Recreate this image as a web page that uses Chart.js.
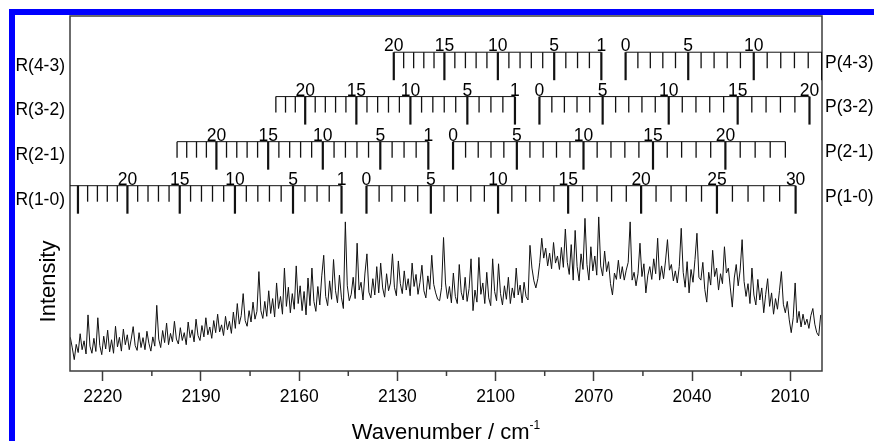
<!DOCTYPE html>
<html>
<head>
<meta charset="utf-8">
<script src="https://cdn.jsdelivr.net/npm/chart.js@4.4.1/dist/chart.umd.min.js"></script>
<style>
  html, body { margin: 0; padding: 0; background: #fff; }
  #wrap { position: relative; width: 874px; height: 441px; overflow: hidden; }
  #chart { position: absolute; left: 0; top: 0; }
  #edge { position: absolute; left: 9px; top: 9px; width: 900px; height: 460px;
          border-left: 6px solid #0000ff; border-top: 6px solid #0000ff; pointer-events: none; }
</style>
</head>
<body>
<div id="wrap">
  <canvas id="chart" width="874" height="441"></canvas>
  <div id="edge"></div>
</div>
<script>
// x axis ticks (cm-1)
const majorTicks = [2220, 2190, 2160, 2130, 2100, 2070, 2040, 2010];
const minorTicks = [2205, 2175, 2145, 2115, 2085, 2055, 2025];

// spectrum, one sample every 0.6 cm-1 from 2229.9 cm-1 downwards
const wnFirst = 2229.9;
const wnStep = 0.6;
const specA = [
  9.5, 6.5, 3.2, 7.5, 5.2, 10.5, 6.0, 8.5, 4.8, 15.8,
  7.0, 5.0, 9.2, 5.5, 15.0, 7.2, 4.6, 9.8, 6.2, 11.5,
  5.4, 8.8, 5.0, 12.6, 6.8, 9.5, 5.6, 11.8, 7.4, 10.2,
  6.0, 9.0, 12.5, 7.2, 5.8, 10.8, 6.6, 9.4, 6.0, 11.2,
  7.8, 5.6, 9.6, 7.0, 18.5, 9.0, 6.6, 11.4, 8.0, 13.5,
  7.4, 10.6, 8.2, 14.0, 9.0, 7.6, 12.2, 8.6, 10.8, 7.4,
  13.8, 9.4, 11.6, 8.2, 14.6, 10.0, 8.6, 12.8, 9.6, 15.0,
  10.2, 12.4, 9.2, 14.2, 10.8, 16.0, 11.0, 13.0, 10.0, 15.4,
  11.6, 14.0, 10.6, 16.6, 12.0, 19.0, 13.2, 15.6, 21.8, 14.2,
  12.6, 17.0, 13.8, 19.4, 14.6, 16.8
];
const specB = [
  28.0, 17.0, 14.8, 19.6, 15.4, 22.6, 16.2, 20.4, 15.2, 24.8,
  17.6, 21.0, 16.0, 29.0, 18.2, 23.6, 16.4, 21.8, 17.4, 29.6,
  19.0, 24.0, 17.0, 22.4, 15.8, 26.2, 18.4, 29.0, 19.6, 16.8,
  23.8, 18.6, 26.8, 32.6, 21.0, 18.4, 25.4, 20.2, 31.4, 22.6,
  19.2, 27.0, 20.8, 17.6, 42.0, 24.0, 19.8, 21.6, 26.4, 20.4,
  36.0, 22.8, 25.0, 20.0, 27.6, 33.0, 22.2, 20.6, 26.0, 21.4,
  29.4, 22.0, 30.4, 23.4, 20.8, 27.4, 22.6, 24.8, 33.0, 23.6,
  21.2, 31.0, 24.6, 21.8, 28.2, 22.8, 26.0, 21.2, 30.4, 23.8,
  27.2, 21.6, 25.0, 29.8, 22.6, 20.6, 26.8, 23.0, 32.6, 24.4,
  22.0, 20.2, 19.8, 23.6, 37.6, 24.8
];
const specC = [
  20.4, 23.8, 19.2, 27.6, 21.0, 19.0, 30.0, 22.2, 20.0, 26.4,
  19.6, 23.2, 31.6, 17.0, 22.8, 19.4, 32.0, 21.6, 24.8, 19.0,
  27.8, 20.6, 18.4, 31.6, 22.4, 19.8, 30.2, 21.8, 18.6, 24.0,
  20.2, 26.4, 19.0, 23.4, 20.6, 29.0, 21.4, 24.2, 19.2, 25.0,
  21.0, 20.0, 35.4, 29.0, 25.4, 23.4, 26.0, 30.6, 37.4, 31.8,
  34.6, 29.6, 33.2, 28.8, 36.2, 30.4, 32.4, 28.6, 34.8, 29.2,
  40.0, 30.6, 27.2, 35.6, 25.6, 39.6, 29.4, 25.4, 33.0, 28.6,
  43.0, 30.0, 25.6, 35.0, 28.2, 32.4, 27.0, 43.4, 29.6, 26.8,
  33.8, 28.0, 30.8, 24.6, 21.4, 27.6, 25.8, 31.2, 26.0, 29.4,
  25.6, 28.4, 30.6, 42.0, 25.6, 27.8
];
const specD = [
  24.0, 27.4, 36.0, 26.6, 30.2, 22.0, 27.0, 29.4, 25.8, 31.6,
  27.4, 37.4, 25.6, 29.6, 26.0, 31.0, 37.0, 28.4, 30.0, 25.4,
  28.2, 24.8, 29.4, 40.2, 27.8, 23.6, 30.8, 22.0, 28.6, 25.0,
  31.4, 38.8, 26.4, 25.6, 30.6, 23.0, 19.4, 27.8, 24.2, 34.0,
  26.6, 29.0, 22.8, 27.4, 24.6, 35.0, 27.6, 29.0, 23.4, 18.0,
  26.2, 30.0, 24.0, 28.4, 37.0, 25.2, 21.0, 24.6, 19.0, 29.0,
  21.4, 18.6, 25.8, 20.0, 23.4, 16.4, 21.6, 26.0, 18.2, 22.0,
  16.0, 20.4, 17.4, 22.6, 28.0, 18.8, 16.4, 19.6, 14.4, 10.8,
  15.0, 24.8, 13.6, 16.8, 12.4, 16.0, 13.0, 14.6, 12.0, 15.6,
  17.6, 13.2, 10.8, 9.9, 15.8
];

// line positions (cm-1); R combs start at label 1, P combs at label 0
const r10 = [2147.06, 2150.82, 2154.54, 2158.23, 2161.88, 2165.50, 2169.08, 2172.63, 2176.14, 2179.62,
             2183.06, 2186.47, 2189.84, 2193.17, 2196.48, 2199.74, 2202.98, 2206.17, 2209.33, 2212.46,
             2215.55, 2218.61, 2221.63, 2224.62, 2227.57, 2230.49];
const p10 = [2139.44, 2135.58, 2131.69, 2127.75, 2123.79, 2119.78, 2115.75, 2111.68, 2107.57, 2103.43,
             2099.25, 2095.04, 2090.79, 2086.51, 2082.19, 2077.84, 2073.45, 2069.03, 2064.57, 2060.08,
             2055.55, 2050.99, 2046.40, 2041.76, 2037.10, 2032.39, 2027.66, 2022.89, 2018.08, 2013.24,
             2008.36];
const r21 = [2120.55, 2124.27, 2127.96, 2131.61, 2135.22, 2138.81, 2142.35, 2145.87, 2149.34, 2152.78,
             2156.19, 2159.56, 2162.90, 2166.20, 2169.47, 2172.70, 2175.90, 2179.06, 2182.19, 2185.28,
             2188.34, 2191.36, 2194.35, 2197.30];
const p21 = [2113.00, 2109.17, 2105.31, 2101.41, 2097.48, 2093.51, 2089.51, 2085.47, 2081.40, 2077.29,
             2073.15, 2068.98, 2064.76, 2060.52, 2056.23, 2051.92, 2047.57, 2043.18, 2038.76, 2034.30,
             2029.81, 2025.28, 2020.72, 2016.12, 2011.49];
const r32 = [2094.09, 2097.78, 2101.43, 2105.05, 2108.63, 2112.18, 2115.69, 2119.17, 2122.61, 2126.02,
             2129.39, 2132.72, 2136.03, 2139.29, 2142.53, 2145.72, 2148.88, 2152.01, 2155.10, 2158.16,
             2161.18, 2164.17, 2167.12];
const p32 = [2086.61, 2082.82, 2078.99, 2075.13, 2071.24, 2067.30, 2063.34, 2059.33, 2055.30, 2051.23,
             2047.12, 2042.98, 2038.80, 2034.59, 2030.34, 2026.06, 2021.74, 2017.39, 2013.00, 2008.58,
             2004.12];
const r43 = [2067.70, 2071.35, 2074.97, 2078.55, 2082.10, 2085.61, 2089.09, 2092.53, 2095.94, 2099.31,
             2102.65, 2105.95, 2109.22, 2112.45, 2115.64, 2118.81, 2121.93, 2125.03, 2128.08, 2131.10];
const p43 = [2060.29, 2056.54, 2052.74, 2048.92, 2045.05, 2041.16, 2037.23, 2033.26, 2029.26, 2025.22,
             2021.15, 2017.04, 2012.90, 2008.72, 2004.51, 2000.26];

const bands = ['4-3', '3-2', '2-1', '1-0'];
const rowLevels = [89.8, 77.3, 64.6, 52.2];   // comb baselines on the intensity axis

const FONT = '"Liberation Sans", Arial, Helvetica, sans-serif';
const INK = '#111';

const spectrum = [...specA, ...specB, ...specC, ...specD];
const points = spectrum.map((v, i) => ({ x: wnFirst - wnStep * i, y: v }));

const combs = [
  { r: r43, p: p43 },
  { r: r32, p: p32 },
  { r: r21, p: p21 },
  { r: r10, p: p10 }
];

function drawComb(ctx, area, xs, lineY, lines, firstLabel) {
  const px = lines.map(v => xs.getPixelForValue(v));
  ctx.save();
  ctx.beginPath();
  ctx.rect(area.left, area.top, area.right - area.left, area.bottom - area.top);
  ctx.clip();

  ctx.strokeStyle = INK;
  ctx.lineWidth = 1;
  ctx.beginPath();
  ctx.moveTo(Math.min(...px), lineY);
  ctx.lineTo(Math.max(...px), lineY);
  ctx.stroke();

  ctx.font = '17.5px ' + FONT;
  ctx.fillStyle = '#000';
  ctx.textAlign = 'center';
  ctx.textBaseline = 'alphabetic';

  px.forEach((p, k) => {
    const n = firstLabel + k;
    const major = n === firstLabel || n % 5 === 0;
    ctx.lineWidth = major ? 2.2 : 1.3;
    ctx.beginPath();
    ctx.moveTo(p, lineY);
    ctx.lineTo(p, lineY + (major ? 28 : 16));
    ctx.stroke();
    if (major) {
      const txt = String(n);
      const w = ctx.measureText(txt).width;
      if (p - w / 2 >= area.left && p + w / 2 <= area.right) {
        ctx.fillText(txt, p, lineY - 1);
      }
    }
  });
  ctx.restore();
}

const decor = {
  id: 'decor',
  afterDraw(chart) {
    const { ctx, chartArea: a, scales: { x, y } } = chart;
    ctx.save();

    // plot frame
    ctx.strokeStyle = '#3c3c3c';
    ctx.lineWidth = 1.5;
    ctx.strokeRect(a.left, a.top, a.right - a.left, a.bottom - a.top);

    // minor ticks on the wavenumber axis
    ctx.beginPath();
    minorTicks.forEach(v => {
      const px = x.getPixelForValue(v);
      ctx.moveTo(px, a.bottom);
      ctx.lineTo(px, a.bottom + 5);
    });
    ctx.stroke();

    // R and P combs for each band
    combs.forEach((c, i) => {
      const lineY = y.getPixelForValue(rowLevels[i]);
      drawComb(ctx, a, x, lineY, c.r, 1);
      drawComb(ctx, a, x, lineY, c.p, 0);

      ctx.font = '17.5px ' + FONT;
      ctx.fillStyle = '#000';
      ctx.textBaseline = 'middle';
      ctx.textAlign = 'right';
      ctx.fillText('R(' + bands[i] + ')', a.left - 5, lineY + 14);
      ctx.textAlign = 'left';
      ctx.fillText('P(' + bands[i] + ')', a.right + 3, lineY + 11);
    });

    // axis titles
    ctx.fillStyle = '#000';
    ctx.textBaseline = 'alphabetic';
    const main = 'Wavenumber / cm';
    const sup = '-1';
    ctx.font = '22px ' + FONT;
    const wMain = ctx.measureText(main).width;
    ctx.font = '12px ' + FONT;
    const wSup = ctx.measureText(sup).width;
    const x0 = (a.left + a.right) / 2 - (wMain + wSup) / 2;
    ctx.textAlign = 'left';
    ctx.font = '22px ' + FONT;
    ctx.fillText(main, x0, 439);
    ctx.font = '12px ' + FONT;
    ctx.fillText(sup, x0 + wMain, 428.5);

    ctx.font = '22px ' + FONT;
    ctx.translate(55, 281.5);
    ctx.rotate(-Math.PI / 2);
    ctx.textAlign = 'center';
    ctx.fillText('Intensity', 0, 0);

    ctx.restore();
  }
};

new Chart(document.getElementById('chart'), {
  type: 'line',
  data: {
    datasets: [{
      data: points,
      borderColor: INK,
      borderWidth: 1,
      pointRadius: 0,
      tension: 0,
      fill: false
    }]
  },
  options: {
    responsive: false,
    animation: false,
    layout: { padding: { left: 70, right: 52, top: 16, bottom: 0 } },
    plugins: { legend: { display: false }, tooltip: { enabled: false } },
    scales: {
      x: {
        type: 'linear',
        reverse: true,
        min: 2000.3,
        max: 2230,
        afterBuildTicks: scale => { scale.ticks = majorTicks.map(v => ({ value: v })); },
        afterFit: scale => { scale.height = 70; },
        ticks: {
          callback: v => String(v),
          color: '#000',
          padding: 6,
          maxRotation: 0,
          autoSkip: false,
          font: { family: FONT, size: 17.5 }
        },
        grid: {
          drawOnChartArea: false,
          drawTicks: true,
          tickLength: 10,
          tickWidth: 1.5,
          tickColor: '#3c3c3c'
        },
        border: { display: false }
      },
      y: {
        display: false,
        min: 0,
        max: 100
      }
    }
  },
  plugins: [decor]
});
</script>
</body>
</html>
